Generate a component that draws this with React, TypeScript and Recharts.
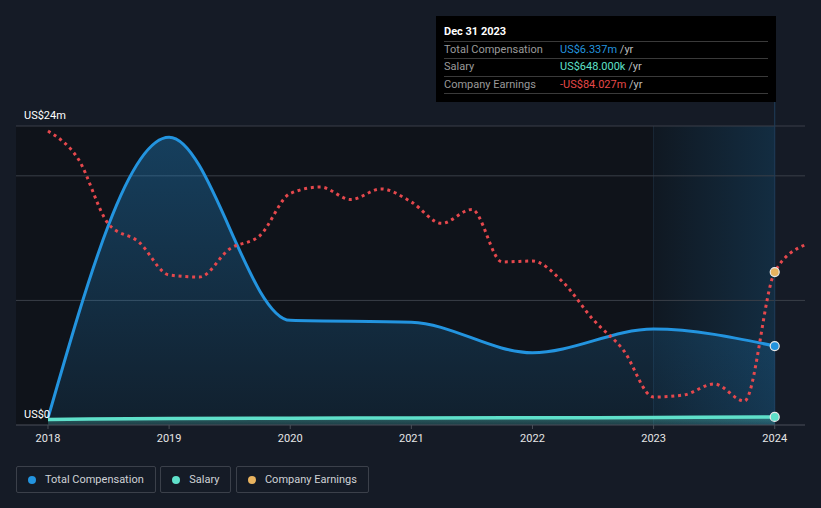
import React from 'react';
import {
  ComposedChart,
  Area,
  Line,
  XAxis,
  YAxis,
  ReferenceArea,
  ReferenceLine,
  ReferenceDot,
} from 'recharts';

// ---------- data ----------
const compYears = [2018, 2019, 2020, 2021, 2022, 2023, 2024];
const totalComp = [0.55, 23.1, 8.4, 8.25, 5.8, 7.7, 6.337]; // US$m
const salary = [0.45, 0.52, 0.55, 0.57, 0.58, 0.6, 0.648]; // US$m

const earnDates = [
  2018, 2018.25, 2018.5, 2018.75, 2019, 2019.25, 2019.5, 2019.75, 2020, 2020.25, 2020.5, 2020.75,
  2021, 2021.25, 2021.5, 2021.75, 2022, 2022.25, 2022.5, 2022.75, 2023, 2023.25, 2023.5, 2023.75,
  2024, 2024.25,
];
const earnings = [
  -2.9, -19.0, -56.4, -66.7, -85.7, -86.9, -70.7, -63.0, -38.8, -35.1, -42.3, -36.2,
  -43.7, -56.0, -48.0, -78.2, -77.7, -89.7, -111.3, -128.9, -155.9, -154.7, -148.4, -158.2,
  -84.027, -68.4,
];

const xTicks = [2018, 2019, 2020, 2021, 2022, 2023, 2024];
const compTicks = [0, 24];
const compTickLabels = ['US$0', 'US$24m'];
const gridValues = [10, 20, 24];

const tooltipTitle = 'Dec 31 2023';
const tooltipRows = [
  { label: 'Total Compensation', value: 'US$6.337m', color: '#2394df' },
  { label: 'Salary', value: 'US$648.000k', color: '#5fe0ca' },
  { label: 'Company Earnings', value: '-US$84.027m', color: '#e64848' },
];

const legendItems = [
  { label: 'Total Compensation', color: '#2394df' },
  { label: 'Salary', color: '#5fe0ca' },
  { label: 'Company Earnings', color: '#e9b35f' },
];

const compData = compYears.map((x, i) => ({ x, comp: totalComp[i] }));
const salaryData = compYears.map((x, i) => ({ x, sal: salary[i] }));
const earnData = earnDates.map((x, i) => ({ x, earn: earnings[i] }));

const FONT = 'Roboto, "Noto Sans", sans-serif';
const BG = '#151b26';

const renderYTick = (props: any) => {
  const { y, payload } = props;
  const idx = compTicks.indexOf(payload.value);
  return (
    <text x={24} y={y - 7.5} fill="#ffffff" fontSize={11} fontFamily={FONT} textAnchor="start">
      {compTickLabels[idx]}
    </text>
  );
};

export default function App() {
  const lastI = compYears.length - 1;
  const nowX = compYears[lastI];
  const nowEarnI = earnDates.indexOf(nowX);
  return (
    <div
      style={{
        position: 'absolute',
        left: 0,
        top: 0,
        width: 821,
        height: 508,
        background: BG,
        fontFamily: FONT,
        overflow: 'hidden',
      }}
    >
      <ComposedChart
        width={821}
        height={508}
        margin={{ top: 126, right: 16, bottom: 53, left: 0 }}
      >
        <defs>
          <linearGradient id="compFill" x1="0" y1="0" x2="0" y2="1">
            <stop offset="0%" stopColor="#2394df" stopOpacity={0.34} />
            <stop offset="100%" stopColor="#2394df" stopOpacity={0.1} />
          </linearGradient>
          <linearGradient id="salFill" x1="0" y1="0" x2="0" y2="1">
            <stop offset="0%" stopColor="#5fe0ca" stopOpacity={0.35} />
            <stop offset="100%" stopColor="#5fe0ca" stopOpacity={0.15} />
          </linearGradient>
          <linearGradient id="nowFill" x1="0" y1="0" x2="1" y2="0">
            <stop offset="0%" stopColor="#2394df" stopOpacity={0.04} />
            <stop offset="100%" stopColor="#2394df" stopOpacity={0.2} />
          </linearGradient>
        </defs>
        <XAxis
          dataKey="x"
          type="number"
          domain={[2017.736, 2024.25]}
          allowDataOverflow
          ticks={xTicks}
          tick={{ fill: '#e6e6e6', fontSize: 11, fontFamily: FONT }}
          tickLine={{ stroke: '#4a4f58' }}
          axisLine={{ stroke: '#4a4f58' }}
          tickSize={4}
          tickMargin={5}
          height={30}
          interval={0}
        />
        <YAxis
          yAxisId="comp"
          type="number"
          domain={[0, 24]}
          ticks={compTicks}
          allowDataOverflow
          axisLine={false}
          tickLine={false}
          width={16}
          interval={0}
          tick={renderYTick}
        />
        <YAxis yAxisId="earn" type="number" domain={[-172, 0]} hide allowDataOverflow />

        <ReferenceArea
          yAxisId="comp"
          x1={2017.736}
          x2={nowX}
          y1={0}
          y2={24}
          fill="#0f131a"
          fillOpacity={1}
          stroke="none"
          zIndex={-300}
        />
        <ReferenceArea
          yAxisId="comp"
          x1={compYears[lastI - 1]}
          x2={nowX}
          y1={0}
          y2={24}
          fill="url(#nowFill)"
          fillOpacity={1}
          stroke="none"
          zIndex={-250}
        />
        <ReferenceLine
          yAxisId="comp"
          segment={[
            { x: compYears[lastI - 1], y: 0 },
            { x: compYears[lastI - 1], y: 24 },
          ]}
          stroke="#1a2838"
          strokeWidth={1}
          zIndex={-240}
        />
        {gridValues.map((v) => (
          <ReferenceLine
            key={v}
            yAxisId="comp"
            y={v}
            stroke="#3a3f48"
            strokeWidth={1}
            zIndex={-200}
          />
        ))}
        <ReferenceLine
          yAxisId="comp"
          segment={[
            { x: nowX, y: 0 },
            { x: nowX, y: 26 },
          ]}
          ifOverflow="visible"
          stroke="#1f3d5a"
          strokeWidth={1}
          zIndex={-150}
        />

        <Area
          yAxisId="comp"
          data={compData}
          dataKey="comp"
          type="monotone"
          stroke="#2394df"
          strokeWidth={3}
          fill="url(#compFill)"
          fillOpacity={1}
          dot={false}
          activeDot={false}
          isAnimationActive={false}
        />
        <Area
          yAxisId="comp"
          data={salaryData}
          dataKey="sal"
          type="monotone"
          stroke="#5fe0ca"
          strokeWidth={3.5}
          fill="url(#salFill)"
          fillOpacity={1}
          dot={false}
          activeDot={false}
          isAnimationActive={false}
        />
        <Line
          yAxisId="earn"
          data={earnData}
          dataKey="earn"
          type="monotone"
          stroke="#e5484d"
          strokeWidth={3}
          strokeDasharray="3 3.8"
          dot={false}
          activeDot={false}
          isAnimationActive={false}
        />

        <ReferenceDot
          yAxisId="comp"
          x={nowX}
          y={totalComp[lastI]}
          r={4.5}
          fill="#2394df"
          stroke="#e8e8e8"
          strokeWidth={1.2}
          zIndex={1300}
        />
        <ReferenceDot
          yAxisId="comp"
          x={nowX}
          y={salary[lastI]}
          r={4.5}
          fill="#5fe0ca"
          stroke="#e8e8e8"
          strokeWidth={1.2}
          zIndex={1300}
        />
        <ReferenceDot
          yAxisId="earn"
          x={nowX}
          y={earnings[nowEarnI]}
          r={4.5}
          fill="#e9b35f"
          stroke="#e8e8e8"
          strokeWidth={1.2}
          zIndex={1300}
        />
      </ComposedChart>

      {/* tooltip */}
      <div
        style={{
          position: 'absolute',
          left: 436,
          top: 16,
          width: 340,
          height: 86,
          background: '#000000',
          fontSize: 11,
          lineHeight: '13px',
        }}
      >
        <div style={{ position: 'absolute', left: 8, top: 9, color: '#ffffff', fontWeight: 700 }}>
          {tooltipTitle}
        </div>
        {[25, 42, 60, 77].map((t) => (
          <div
            key={t}
            style={{ position: 'absolute', left: 8, top: t, width: 324, height: 1, background: '#3a3a3a' }}
          />
        ))}
        {tooltipRows.map((r, i) => (
          <React.Fragment key={r.label}>
            <div style={{ position: 'absolute', left: 8, top: 27 + i * 17.3, color: '#9a9a9a' }}>{r.label}</div>
            <div style={{ position: 'absolute', left: 124, top: 27 + i * 17.3, whiteSpace: 'nowrap' }}>
              <span style={{ color: r.color }}>{r.value}</span>
              <span style={{ color: '#bdbdbd' }}> /yr</span>
            </div>
          </React.Fragment>
        ))}
      </div>

      {/* legend */}
      <div style={{ position: 'absolute', left: 16, top: 466, display: 'flex', gap: 4.5 }}>
        {legendItems.map((it) => (
          <div
            key={it.label}
            style={{
              boxSizing: 'border-box',
              height: 27,
              border: '1px solid #3b404a',
              borderRadius: 2,
              display: 'flex',
              alignItems: 'center',
              paddingLeft: 11,
              paddingRight: 11,
              fontSize: 11,
              color: '#cfd2d6',
            }}
          >
            <span
              style={{
                width: 8,
                height: 8,
                borderRadius: 4,
                background: it.color,
                marginRight: 9,
                display: 'inline-block',
              }}
            />
            <span>{it.label}</span>
          </div>
        ))}
      </div>
    </div>
  );
}
